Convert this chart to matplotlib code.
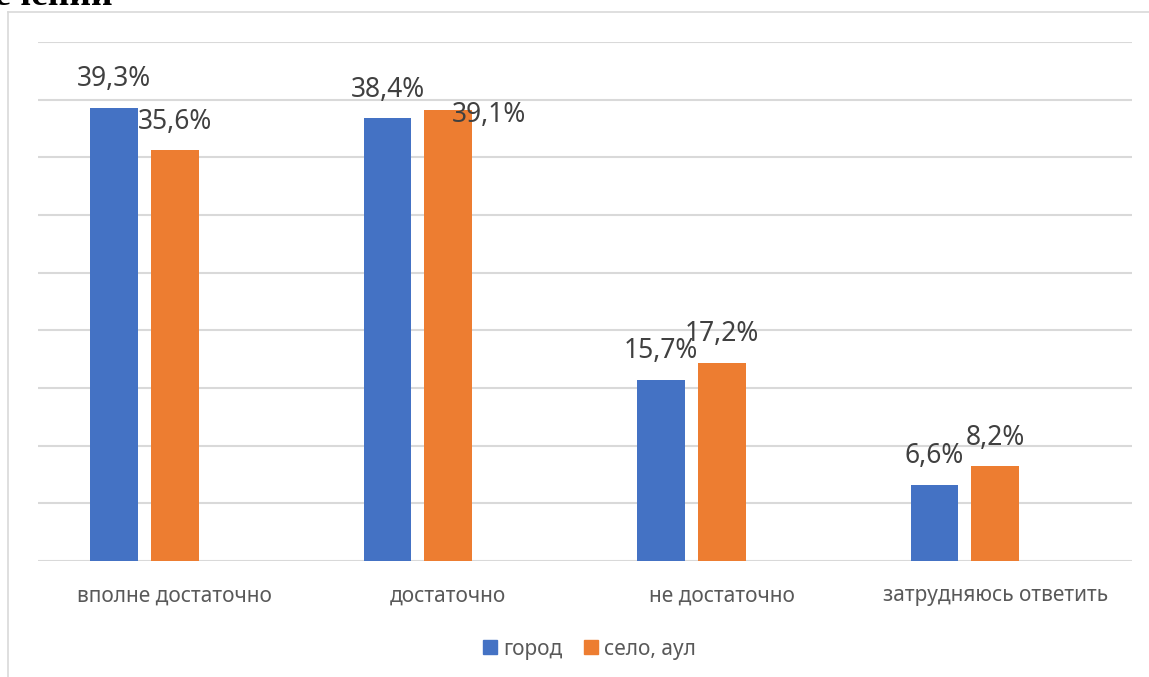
import matplotlib.pyplot as plt
from matplotlib.lines import Line2D
from matplotlib.patches import Patch
import numpy as np

categories = ["вполне достаточно", "достаточно", "не достаточно", "затрудняюсь ответить"]
series_names = ["город", "село, аул"]
city = [39.3, 38.4, 15.7, 6.6]
village = [35.6, 39.1, 17.2, 8.2]

BLUE = "#4472C4"
ORANGE = "#ED7D31"
GRID = "#D9D9D9"
TXT = "#595959"
LBL = "#404040"

W, H = 1149, 677
fig = plt.figure(figsize=(W / 100, H / 100), dpi=100)
plt.rcParams['font.family'] = ['Noto Sans', 'DejaVu Sans']

# plot area in pixels: x 38..1132, y 42..561
ax = fig.add_axes([38 / W, (H - 561) / H, 1094 / W, 519 / H])
ax.set_xlim(-0.5, 3.5)
ax.set_ylim(0, 45)

x = np.arange(len(categories))
bw = 0.175
off_blue = -0.222
off_orange = 0.0

ax.bar(x + off_blue, city, width=bw, color=BLUE, zorder=3)
ax.bar(x + off_orange, village, width=bw, color=ORANGE, zorder=3)

ax.set_yticks(np.arange(0, 46, 5))
ax.yaxis.grid(True, color=GRID, linewidth=1.5)
ax.set_axisbelow(True)
ax.tick_params(axis='y', left=False, labelleft=False)
ax.tick_params(axis='x', bottom=False, pad=14, labelsize=15, labelcolor=TXT)
ax.set_xticks(x)
ax.set_xticklabels(categories)
for s in ax.spines.values():
    s.set_visible(False)

def fmt(v):
    return f"{v:.1f}".replace(".", ",") + "%"

# manual nudges for overlapping labels (points)
nudge = {(1, 1): (29, -24)}
for si, (vals, off) in enumerate([(city, off_blue), (village, off_orange)]):
    for ci, v in enumerate(vals):
        dx, dy = nudge.get((ci, si), (0, 0))
        ax.annotate(fmt(v), (ci + off, v), xytext=(dx, 20.5 + dy), textcoords="offset points",
                    ha="center", va="center", fontsize=19, color=LBL, zorder=4)

handles = [Patch(color=BLUE), Patch(color=ORANGE)]
fig.legend(handles, series_names, loc="center", bbox_to_anchor=(589.5 / W, 1 - 649 / H),
           ncol=2, frameon=False, fontsize=15, labelcolor=TXT,
           handlelength=0.68, handleheight=0.68, handletextpad=0.3, columnspacing=1.0)

# chart area frame (partly off-image)
fig.add_artist(Line2D([8 / W, 8 / W], [0, 1 - 12 / H], color=GRID, lw=1.2, transform=fig.transFigure))
fig.add_artist(Line2D([8 / W, 1], [1 - 12 / H, 1 - 12 / H], color=GRID, lw=1.2, transform=fig.transFigure))

# heading fragment cut off at the top
fig.text(113 / W, 1 - 5 / H, "обеспечений", ha="right", va="baseline",
         fontsize=27, fontweight="bold", family=["Liberation Serif", "DejaVu Serif"], color="black")

fig.savefig("out.png", dpi=100)
